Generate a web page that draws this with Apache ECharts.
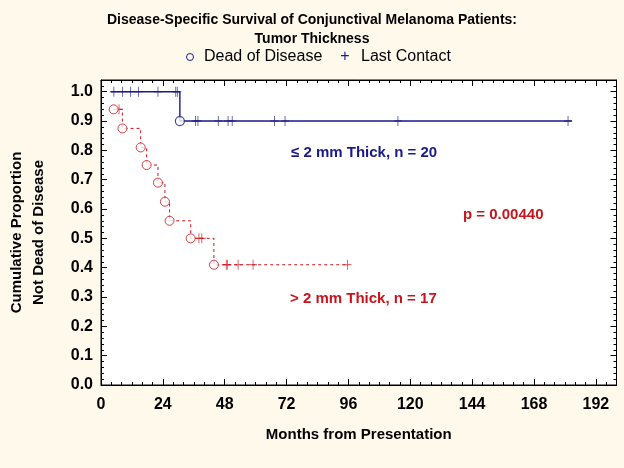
<!DOCTYPE html>
<html><head><meta charset="utf-8">
<script src="https://cdn.jsdelivr.net/npm/echarts@6/dist/echarts.min.js"></script>
<style>html,body{margin:0;padding:0;background:#FFF9EC}#c{width:624px;height:468px}</style>
</head><body><div id="c"></div>
<script>
// ---- data (months, proportion) ----
const xTicks = [0, 24, 48, 72, 96, 120, 144, 168, 192];
const yTicks = [0.0, 0.1, 0.2, 0.3, 0.4, 0.5, 0.6, 0.7, 0.8, 0.9, 1.0];

// <= 2 mm thick (n = 20)
const thinStepTimes = [3.8, 30.6, 182.7];
const thinStepSurv  = [1.0, 0.9, 0.9];
const thinEventTimes = [30.6];
const thinEventSurv  = [0.9];
const thinCensorTimes = [5.0, 8.3, 11.5, 14.5, 22.1, 29.0, 29.6, 36.7, 37.6, 45.5, 49.3, 50.9, 67.3, 71.4, 115.2, 181.2];
const thinCensorSurv  = [1.0, 1.0, 1.0, 1.0, 1.0, 1.0, 1.0, 0.9, 0.9, 0.9, 0.9, 0.9, 0.9, 0.9, 0.9, 0.9];

// > 2 mm thick (n = 17)
const thickStepTimes = [4.9, 8.3, 15.4, 17.7, 22.1, 24.8, 26.6, 34.8, 43.8, 95.6];
const thickStepSurv  = [0.94, 0.875, 0.81, 0.75, 0.69, 0.625, 0.56, 0.50, 0.41, 0.41];
const thickEventTimes = [4.9, 8.3, 15.4, 17.7, 22.1, 24.8, 26.6, 34.8, 43.8];
const thickEventSurv  = [0.94, 0.875, 0.81, 0.75, 0.69, 0.625, 0.56, 0.50, 0.41];
const thickCensorTimes = [7.0, 38.0, 39.1, 48.6, 49.0, 53.2, 59.0, 95.6];
const thickCensorSurv  = [0.94, 0.50, 0.50, 0.41, 0.41, 0.41, 0.41, 0.41];

const zip = (a, b) => a.map((v, i) => [v, b[i]]);

const BLUE = '#1a1a8a', RED = '#c8141c';
const FONT = "'Liberation Sans', Arial, sans-serif";
const PLUS = 'path://M4.5,0h1v10h-1zM0,4.5h10v1h-10z';

const tickStyle = {color: '#000', width: 1};
const xCommon = {type: 'value', min: 0, max: 200, interval: 24, splitLine: {show: false},
  axisLine: {show: true, onZero: false, lineStyle: {color: '#000', width: 1}},
  axisTick: {show: true, inside: true, length: 6, lineStyle: tickStyle},
  minorTick: {show: true, splitNumber: 6, length: 3, lineStyle: tickStyle}};
const yCommon = {type: 'value', min: 0, max: 1.04, interval: 0.1, splitLine: {show: false},
  axisLine: {show: true, onZero: false, lineStyle: {color: '#000', width: 1}},
  axisTick: {show: true, inside: true, length: 6, lineStyle: tickStyle},
  minorTick: {show: true, splitNumber: 5, length: 3, lineStyle: tickStyle}};

const chart = echarts.init(document.getElementById('c'), null, {renderer: 'canvas'});
chart.setOption({
  backgroundColor: '#FFF9EC',
  animation: false,
  textStyle: {fontFamily: FONT},
  title: {
    text: 'Disease-Specific Survival of Conjunctival Melanoma Patients:\nTumor Thickness',
    left: 'center', top: 6,
    textStyle: {fontFamily: FONT, fontSize: 14, fontWeight: 'bold', color: '#000', lineHeight: 19}
  },
  grid: {left: 101, right: 7.5, top: 80, bottom: 83, show: true, backgroundColor: '#fff',
         borderColor: '#000', borderWidth: 1, containLabel: false, outerBoundsMode: 'none'},
  xAxis: [
    Object.assign({}, xCommon, {position: 'bottom',
      axisLabel: {show: true, margin: 12, color: '#000', fontSize: 16, fontWeight: 'bold', fontFamily: FONT,
        customValues: xTicks},
      name: 'Months from Presentation', nameLocation: 'middle', nameGap: 42,
      nameTextStyle: {color: '#000', fontSize: 15, fontWeight: 'bold', fontFamily: FONT}}),
    Object.assign({}, xCommon, {position: 'top', axisLabel: {show: false}})
  ],
  yAxis: [
    Object.assign({}, yCommon, {position: 'left',
      axisLabel: {show: true, margin: 8, color: '#000', fontSize: 16, fontWeight: 'bold', fontFamily: FONT,
        customValues: yTicks, formatter: v => v.toFixed(1)},
      name: 'Cumulative Proportion\nNot Dead of Disease', nameLocation: 'middle', nameGap: 51, nameRotate: 90,
      nameTextStyle: {color: '#000', fontSize: 15, fontWeight: 'bold', fontFamily: FONT, lineHeight: 22}}),
    Object.assign({}, yCommon, {position: 'right', axisLabel: {show: false}})
  ],
  series: [
    {type: 'line', step: 'end', data: zip(thinStepTimes, thinStepSurv), showSymbol: false, symbol: 'none',
     lineStyle: {color: BLUE, width: 1.4}, z: 2},
    {type: 'scatter', data: zip(thinEventTimes, thinEventSurv), symbol: 'circle', symbolSize: 9,
     itemStyle: {color: '#fff', borderColor: BLUE, borderWidth: 1.2}, z: 4},
    {type: 'scatter', data: zip(thinCensorTimes, thinCensorSurv), symbol: PLUS, symbolSize: [8, 10],
     itemStyle: {color: BLUE}, z: 3},
    {type: 'line', step: 'end', data: zip(thickStepTimes, thickStepSurv), showSymbol: false, symbol: 'none',
     lineStyle: {color: RED, width: 1, type: [3, 3]}, z: 2},
    {type: 'scatter', data: zip(thickEventTimes, thickEventSurv), symbol: 'circle', symbolSize: 9,
     itemStyle: {color: '#fff', borderColor: RED, borderWidth: 1}, z: 4},
    {type: 'scatter', data: zip(thickCensorTimes, thickCensorSurv), symbol: PLUS, symbolSize: [8, 10],
     itemStyle: {color: RED}, z: 3}
  ],
  graphic: [
    {type: 'circle', shape: {cx: 190, cy: 57, r: 3.5}, style: {fill: 'none', stroke: BLUE, lineWidth: 1}},
    {type: 'text', x: 204, y: 57, style: {text: 'Dead of Disease', font: "16px 'Liberation Sans', Arial, sans-serif", fill: '#000', verticalAlign: 'middle'}},
    {type: 'text', x: 345, y: 57, style: {text: '+', font: "16px 'Liberation Sans', Arial, sans-serif", fill: BLUE, align: 'center', verticalAlign: 'middle'}},
    {type: 'text', x: 361, y: 57, style: {text: 'Last Contact', font: "16px 'Liberation Sans', Arial, sans-serif", fill: '#000', verticalAlign: 'middle'}},
    {type: 'text', x: 291, y: 153, style: {text: '≤ 2 mm Thick, n = 20', font: "bold 15px 'Liberation Sans', Arial, sans-serif", fill: BLUE, verticalAlign: 'middle'}},
    {type: 'text', x: 463, y: 215, style: {text: 'p = 0.00440', font: "bold 15px 'Liberation Sans', Arial, sans-serif", fill: RED, verticalAlign: 'middle'}},
    {type: 'text', x: 290, y: 299, style: {text: '> 2 mm Thick, n = 17', font: "bold 15px 'Liberation Sans', Arial, sans-serif", fill: RED, verticalAlign: 'middle'}}
  ]
});
</script></body></html>
